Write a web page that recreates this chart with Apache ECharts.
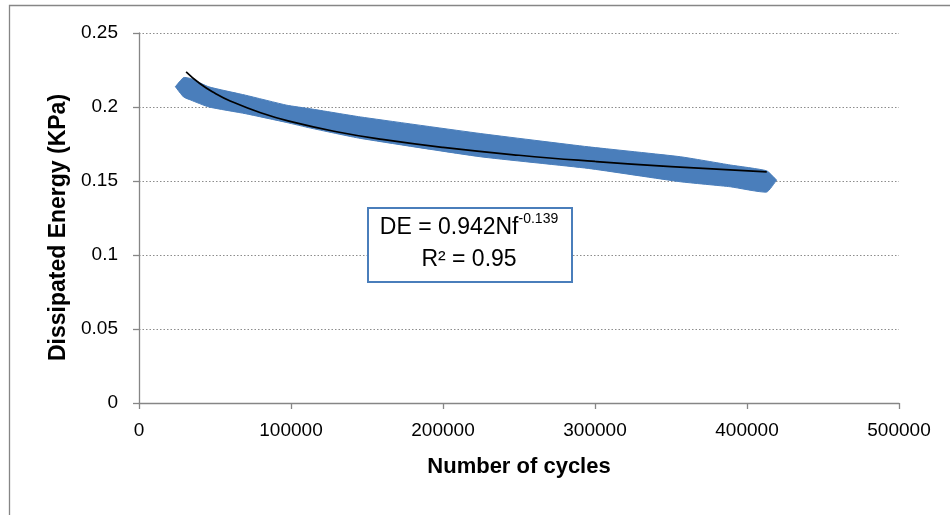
<!DOCTYPE html>
<html>
<head>
<meta charset="utf-8">
<script src="https://cdn.jsdelivr.net/npm/echarts@6/dist/echarts.min.js"></script>
<style>
html,body{margin:0;padding:0;background:#fff;}
#chart{width:950px;height:515px;}
</style>
</head>
<body>
<div id="chart"></div>
<script>
// Envelope of the dense measured scatter band (Number of cycles vs Dissipated Energy)
var bandCycles = [23900, 29300, 34000, 46000, 70000, 97300, 112700, 145600, 224500, 295600, 356100, 389000, 412900, 419500];
var bandUpper  = [0.2137, 0.2199, 0.2192, 0.2136, 0.2080, 0.2012, 0.1988, 0.1933, 0.1821, 0.1731, 0.1664, 0.1608, 0.1569, 0.1506];
var bandLower  = [0.2137, 0.2068, 0.2047, 0.2000, 0.1955, 0.1895, 0.1858, 0.1788, 0.1664, 0.1585, 0.1495, 0.1461, 0.1425, 0.1506];

// Power trendline
var trendCycles = [31000, 40000, 50000, 60000, 80000, 100000, 130000, 160000, 200000, 250000, 300000, 350000, 413000];
var trendDE     = [0.2238, 0.2159, 0.2093, 0.2041, 0.1961, 0.1901, 0.1833, 0.1781, 0.1727, 0.1674, 0.1632, 0.1597, 0.1561];

var xTicks = [0, 100000, 200000, 300000, 400000, 500000];
var yTicks = [0, 0.05, 0.1, 0.15, 0.2, 0.25];

var bandData = bandCycles.map(function (x, i) { return [x, bandUpper[i], bandLower[i]]; });
var trendData = trendCycles.map(function (x, i) { return [x, trendDE[i]]; });

var chart = echarts.init(document.getElementById('chart'), null, {renderer: 'canvas'});
var axisColor = '#868686';
var bandColor = '#4a7ebb';
var font = '"Liberation Sans", Arial, sans-serif';

function renderBand(params, api) {
  if (params.dataIndex !== 0) return null;
  var pts = [];
  for (var i = 0; i < bandCycles.length; i++) {
    pts.push(api.coord([bandCycles[i], bandUpper[i]]));
  }
  for (var j = bandCycles.length - 1; j >= 0; j--) {
    pts.push(api.coord([bandCycles[j], bandLower[j]]));
  }
  return {
    type: 'polygon',
    shape: {points: pts, smooth: 0.15},
    style: {fill: bandColor, stroke: bandColor, lineWidth: 1}
  };
}

chart.setOption({
  animation: false,
  backgroundColor: '#ffffff',
  grid: {left: 139, right: 51, top: 33, bottom: 112, containLabel: false},
  xAxis: {
    type: 'value', min: xTicks[0], max: xTicks[xTicks.length - 1], interval: 100000,
    name: 'Number of cycles', nameLocation: 'middle', nameGap: 53,
    nameTextStyle: {fontFamily: font, fontSize: 22, fontWeight: 'bold', color: '#000'},
    axisLine: {lineStyle: {color: axisColor, width: 1.3}},
    axisTick: {show: true, length: 6, lineStyle: {color: axisColor, width: 1.3}},
    axisLabel: {margin: 18, fontFamily: font, fontSize: 19, color: '#000',
      formatter: function (v) { return String(v); }},
    splitLine: {show: false}
  },
  yAxis: {
    type: 'value', min: yTicks[0], max: yTicks[yTicks.length - 1], interval: 0.05,
    name: 'Dissipated Energy (KPa)', nameLocation: 'middle', nameGap: 66,
    nameTextStyle: {fontFamily: font, fontSize: 23, fontWeight: 'bold', color: '#000',
      padding: [0, 19, 0, 0]},
    axisLine: {show: true, lineStyle: {color: axisColor, width: 1.3}},
    axisTick: {show: true, length: 6, lineStyle: {color: axisColor, width: 1.3}},
    axisLabel: {margin: 21, fontFamily: font, fontSize: 19, color: '#000',
      formatter: function (v) { return String(+v.toFixed(2)); }},
    splitLine: {show: true, lineStyle: {color: '#8c8c8c', width: 1, type: [1.5, 2]}}
  },
  series: [
    {
      name: 'Dissipated Energy', type: 'custom', data: bandData,
      encode: {x: 0, y: [1, 2]}, renderItem: renderBand, silent: true, z: 2
    },
    {
      name: 'Power trend', type: 'line', data: trendData, smooth: true,
      symbol: 'none', lineStyle: {color: '#000', width: 1.7}, z: 5
    }
  ],
  graphic: [
    {
      type: 'rect', left: 7, top: 3, silent: true, z: 0,
      shape: {width: 1000, height: 600},
      style: {fill: 'none', stroke: axisColor, lineWidth: 1.3}
    },
    {
      type: 'rect', left: 367, top: 207, z: 100,
      shape: {width: 204, height: 74},
      style: {fill: '#fff', stroke: bandColor, lineWidth: 2}
    },
    {
      type: 'text', x: 469, y: 244, z: 101,
      style: {
        text: '{m|DE = 0.942Nf}{s|-0.139}\n{m|R² = 0.95}',
        align: 'center', verticalAlign: 'middle',
        rich: {
          m: {fontFamily: font, fontSize: 23, lineHeight: 32, fill: '#000'},
          s: {fontFamily: font, fontSize: 14, lineHeight: 18, verticalAlign: 'top', fill: '#000'}
        }
      }
    }
  ]
});
</script>
</body>
</html>
